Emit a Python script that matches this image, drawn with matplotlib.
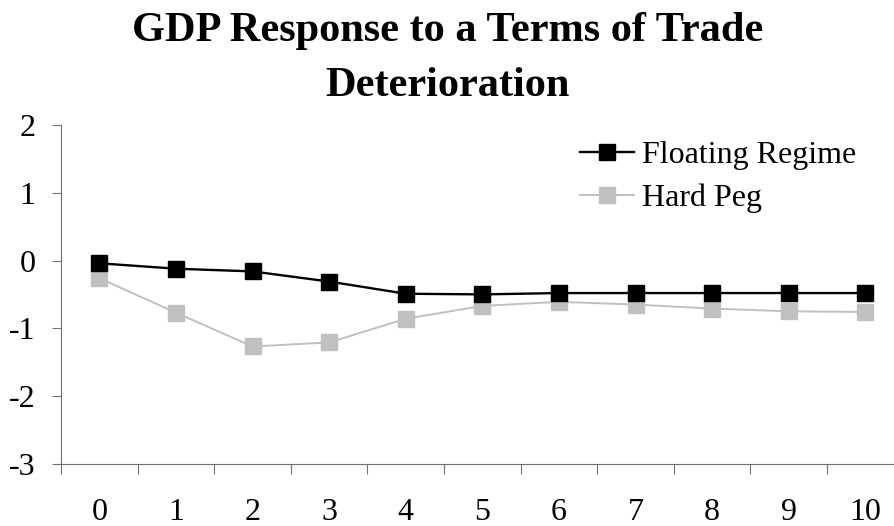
import matplotlib
matplotlib.use("Agg")
import matplotlib.pyplot as plt
import numpy as np

plt.rcParams["font.family"] = "Liberation Serif"
plt.rcParams.update({'font.size': 23})
plt.rcParams['axes.unicode_minus'] = False

# quarters after the shock
periods = list(range(11))
floating = [-0.04, -0.12, -0.16, -0.31, -0.49, -0.50, -0.48, -0.48, -0.48, -0.48, -0.48]
hard_peg = [-0.26, -0.77, -1.27, -1.21, -0.86, -0.67, -0.61, -0.65, -0.71, -0.75, -0.76]

fig = plt.figure(figsize=(8.95, 5.26), dpi=100)
ax = fig.add_axes([0.0682, 0.1188, 0.9415, 0.643])

ax.plot(periods, floating, color='black', lw=1.7, marker='s', ms=11,
        label='Floating Regime', clip_on=False, zorder=3)
ax.plot(periods, hard_peg, color='#c0c0c0', lw=1.4, marker='s', ms=11,
        label='Hard Peg', clip_on=False, zorder=2)

ax.set_xlim(-0.5, 10.5)
ax.set_ylim(-3, 2)
ax.set_xticks(periods)
ax.set_xticklabels([str(p) for p in periods])
ax.set_xticks(np.arange(-0.5, 10.5, 1), minor=True)
ax.tick_params(axis='x', which='major', length=0, pad=25)
ax.tick_params(axis='x', which='minor', length=7.2, width=0.8, color='#707070', direction='out')
ax.set_yticks([-3, -2, -1, 0, 1, 2])
ax.tick_params(axis='y', length=6.5, width=0.8, color='#707070', direction='out', pad=12)

for s in ['top', 'right']:
    ax.spines[s].set_visible(False)
for s in ['left', 'bottom']:
    ax.spines[s].set_color('#707070')
    ax.spines[s].set_linewidth(0.8)

ax.legend(loc='upper left', bbox_to_anchor=(580 / 895, 1 - 141 / 526),
          bbox_transform=fig.transFigure, frameon=False, borderpad=0,
          borderaxespad=0, handlelength=1.7, handletextpad=0.25, labelspacing=0.42)

fig.text(0.5, 1 - 41 / 526, 'GDP Response to a Terms of Trade',
         ha='center', va='baseline', fontsize=30.5, fontweight='bold')
fig.text(0.5, 1 - 96 / 526, 'Deterioration',
         ha='center', va='baseline', fontsize=30.5, fontweight='bold')

plt.savefig('out.png', dpi=100)
